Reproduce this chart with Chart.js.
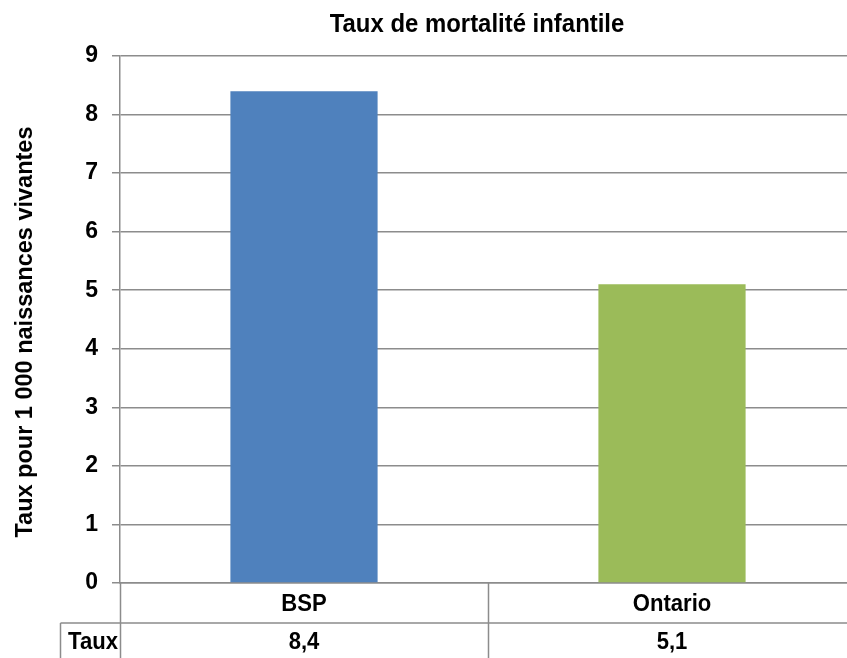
<!DOCTYPE html>
<html>
<head>
<meta charset="utf-8">
<script src="https://cdn.jsdelivr.net/npm/chart.js@4/dist/chart.umd.min.js"></script>
<style>
html,body{margin:0;padding:0;background:#fff;overflow:hidden;width:847px;height:658px;}
#wrap{position:relative;width:860px;height:658px;}
</style>
</head>
<body>
<div id="wrap"><canvas id="c"></canvas></div>
<script>
const categories = ["BSP", "Ontario"];
const rateValues = [8.4, 5.1];
const barColors = ["#4f81bd", "#9bbb59"];
const rowLabel = "Taux";
const chartTitle = "Taux de mortalité infantile";
const yAxisTitle = "Taux pour 1 000 naissances vivantes";
const yMin = 0, yMax = 9, yStep = 1;

const GRID = "#8c8c8c";
const sans = '"Liberation Sans", Arial, sans-serif';

function narrowText(ctx, text, x, y, size, align) {
  const sx = 0.92;
  ctx.save();
  ctx.font = 'bold ' + size + 'px ' + sans;
  ctx.textAlign = align;
  ctx.textBaseline = 'middle';
  ctx.translate(x, y);
  ctx.scale(sx, 1);
  ctx.fillText(text, 0, 0);
  ctx.restore();
}

const decor = {
  id: 'decor',
  afterDraw(chart) {
    const ctx = chart.ctx, a = chart.chartArea, x = chart.scales.x;
    ctx.save();
    ctx.fillStyle = '#000';
    // title
    narrowText(ctx, chartTitle, 477, 25, 26, 'center');
    // y title
    ctx.save();
    ctx.translate(32, 332);
    ctx.rotate(-Math.PI / 2);
    ctx.font = 'bold 23.5px ' + sans;
    ctx.textAlign = 'center'; ctx.textBaseline = 'alphabetic';
    ctx.fillText(yAxisTitle, 0, 0);
    ctx.restore();
    // data table
    const row1 = a.bottom + 40, row2 = 700;
    ctx.strokeStyle = GRID; ctx.lineWidth = 1.5;
    ctx.beginPath();
    const n = categories.length;
    const w = (a.right - a.left) / n;
    for (let i = 0; i <= n; i++) {
      const lx = Math.round(a.left + i * w) + 0.5;
      ctx.moveTo(lx, a.bottom); ctx.lineTo(lx, row2);
    }
    ctx.moveTo(60.5, row1); ctx.lineTo(a.right, row1);
    ctx.moveTo(60.5, row1); ctx.lineTo(60.5, row2);
    ctx.stroke();
    chart.data.labels.forEach((lab, i) => {
      const cx = x.getPixelForValue(i);
      narrowText(ctx, lab, cx, a.bottom + 21, 24, 'center');
      narrowText(ctx, String(chart.data.datasets[0].data[i]).replace('.', ','), cx, row1 + 19, 24, 'center');
    });
    narrowText(ctx, rowLabel, 118, row1 + 19, 24, 'right');
    ctx.restore();
  }
};

new Chart(document.getElementById('c'), {
  type: 'bar',
  data: {
    labels: categories,
    datasets: [{
      data: rateValues,
      backgroundColor: barColors,
      borderWidth: 0,
      categoryPercentage: 0.4,
      barPercentage: 1.0
    }]
  },
  options: {
    responsive: true,
    maintainAspectRatio: false,
    animation: false,
    layout: { padding: { top: 56, bottom: 67, left: 0, right: 4 } },
    plugins: { legend: { display: false }, tooltip: { enabled: false }, title: { display: false } },
    scales: {
      x: {
        ticks: { display: false },
        grid: { display: false },
        border: { display: true, color: GRID, width: 1.5 }
      },
      y: {
        min: yMin, max: yMax,
        afterFit(scale) { scale.width = 120; },
        ticks: { stepSize: yStep, padding: 14, color: '#000', font: { family: sans, size: 23, weight: 'bold' } },
        grid: { color: GRID, lineWidth: 1.5, tickLength: 8 },
        border: { display: true, color: GRID, width: 1.5 }
      }
    }
  },
  plugins: [decor]
});
</script>
</body>
</html>
